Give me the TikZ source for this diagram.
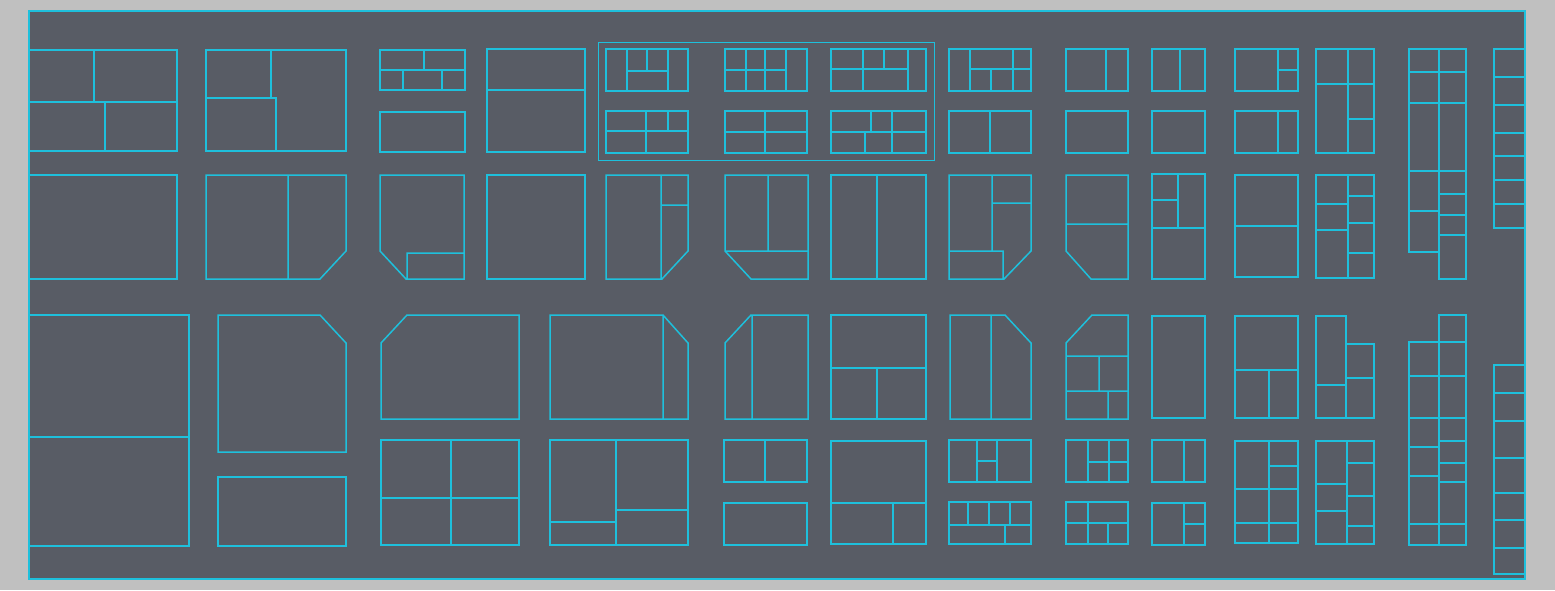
\documentclass[tikz,border=0pt]{standalone}
\definecolor{pagegray}{HTML}{C0C0C0}
\definecolor{boardgray}{HTML}{585C65}
\definecolor{plancyan}{HTML}{1EC0DC}
\begin{document}
\begin{tikzpicture}[x=0.5pt,y=-0.5pt,
    wall/.style={draw=plancyan, line width=0.75pt},
    thinwall/.style={draw=plancyan, line width=0.5pt}]
  \fill[pagegray] (0,0) rectangle (1555,590);
  \filldraw[fill=boardgray, wall] (29,11) rectangle (1525,579);

  % column 1
  \draw[wall] (29,50) rectangle (177,151) (29,102) -- (177,102)
    (94,50) -- (94,102) (105,102) -- (105,151);
  \draw[wall] (29,175) rectangle (177,279);
  \draw[wall] (29,315) rectangle (189,546) (29,437) -- (189,437);

  % column 2
  \draw[wall] (206,50) rectangle (346,151) (271,50) -- (271,98)
    (206,98) -- (276,98) -- (276,151);
  \draw[wall] (206,175) -- (346,175) -- (346,251) -- (320,279) -- (206,279) -- cycle
    (288,175) -- (288,279);
  \draw[wall] (218,315) -- (320,315) -- (346,343) -- (346,452) -- (218,452) -- cycle;
  \draw[wall] (218,477) rectangle (346,546);

  % column 3
  \draw[wall] (380,50) rectangle (465,90) (380,70) -- (465,70)
    (424,50) -- (424,70) (403,70) -- (403,90) (442,70) -- (442,90);
  \draw[wall] (380,112) rectangle (465,152);
  \draw[wall] (380,175) -- (464,175) -- (464,279) -- (406,279) -- (380,251) -- cycle
    (407,279) -- (407,253) -- (464,253);
  \draw[wall] (381,343) -- (407,315) -- (519,315) -- (519,419) -- (381,419) -- cycle;
  \draw[wall] (381,440) rectangle (519,545) (451,440) -- (451,545) (381,498) -- (519,498);

  % column 4
  \draw[wall] (487,49) rectangle (585,152) (487,90) -- (585,90);
  \draw[wall] (487,175) rectangle (585,279);
  \draw[wall] (550,315) -- (663,315) -- (688,343) -- (688,419) -- (550,419) -- cycle
    (663,315) -- (663,419);
  \draw[wall] (550,440) rectangle (688,545) (616,440) -- (616,545)
    (550,522) -- (616,522) (616,510) -- (688,510);

  % grouped variants
  \draw[thinwall] (598,42) rectangle (934,160);
  \draw[wall] (606,49) rectangle (688,91) (627,49) -- (627,91) (668,49) -- (668,91)
    (627,71) -- (668,71) (647,49) -- (647,71);
  \draw[wall] (606,111) rectangle (688,153) (606,131) -- (688,131)
    (646,111) -- (646,153) (668,111) -- (668,131);
  \draw[wall] (725,49) rectangle (807,91) (746,49) -- (746,91) (765,49) -- (765,91)
    (786,49) -- (786,91) (725,70) -- (786,70);
  \draw[wall] (725,111) rectangle (807,153) (725,132) -- (807,132) (765,111) -- (765,153);
  \draw[wall] (831,49) rectangle (926,91) (863,49) -- (863,91) (908,49) -- (908,91)
    (831,69) -- (908,69) (884,49) -- (884,69);
  \draw[wall] (831,111) rectangle (926,153) (831,132) -- (926,132)
    (871,111) -- (871,132) (865,132) -- (865,153) (892,111) -- (892,153);

  % row 2 and 3, middle
  \draw[wall] (606,175) -- (688,175) -- (688,251) -- (662,279) -- (606,279) -- cycle
    (661,175) -- (661,279) (661,205) -- (688,205);
  \draw[wall] (725,175) -- (808,175) -- (808,279) -- (751,279) -- (725,251) -- cycle
    (725,251) -- (808,251) (768,175) -- (768,251);
  \draw[wall] (831,175) rectangle (926,279) (877,175) -- (877,279);
  \draw[wall] (725,343) -- (751,315) -- (808,315) -- (808,419) -- (725,419) -- cycle
    (752,315) -- (752,419);
  \draw[wall] (724,440) rectangle (807,482) (765,440) -- (765,482);
  \draw[wall] (724,503) rectangle (807,545);
  \draw[wall] (831,315) rectangle (926,419) (831,368) -- (926,368) (877,368) -- (877,419);
  \draw[wall] (831,441) rectangle (926,544) (831,503) -- (926,503) (893,503) -- (893,544);

  % column H
  \draw[wall] (949,49) rectangle (1031,91) (970,49) -- (970,91) (970,69) -- (1031,69)
    (991,69) -- (991,91) (1013,49) -- (1013,91);
  \draw[wall] (949,111) rectangle (1031,153) (990,111) -- (990,153);
  \draw[wall] (949,175) -- (1031,175) -- (1031,251) -- (1004,279) -- (949,279) -- cycle
    (992,175) -- (992,251) (992,203) -- (1031,203) (949,251) -- (1003,251) -- (1003,279);
  \draw[wall] (950,315) -- (1005,315) -- (1031,343) -- (1031,419) -- (950,419) -- cycle
    (991,315) -- (991,419);
  \draw[wall] (949,440) rectangle (1031,482) (977,440) -- (977,482) (997,440) -- (997,482)
    (977,461) -- (997,461);
  \draw[wall] (949,502) rectangle (1031,544) (949,525) -- (1031,525)
    (968,502) -- (968,525) (989,502) -- (989,525) (1010,502) -- (1010,525)
    (1005,525) -- (1005,544);

  % column I
  \draw[wall] (1066,49) rectangle (1128,91) (1106,49) -- (1106,91);
  \draw[wall] (1066,111) rectangle (1128,153);
  \draw[wall] (1066,175) -- (1128,175) -- (1128,279) -- (1091,279) -- (1066,251) -- cycle
    (1066,224) -- (1128,224);
  \draw[wall] (1066,343) -- (1092,315) -- (1128,315) -- (1128,419) -- (1066,419) -- cycle
    (1066,356) -- (1128,356) (1099,356) -- (1099,391) (1066,391) -- (1128,391)
    (1108,391) -- (1108,419);
  \draw[wall] (1066,440) rectangle (1128,482) (1088,440) -- (1088,482)
    (1109,440) -- (1109,482) (1088,462) -- (1128,462);
  \draw[wall] (1066,502) rectangle (1128,544) (1066,523) -- (1128,523)
    (1088,502) -- (1088,544) (1108,523) -- (1108,544);

  % column J
  \draw[wall] (1152,49) rectangle (1205,91) (1180,49) -- (1180,91);
  \draw[wall] (1152,111) rectangle (1205,153);
  \draw[wall] (1152,174) rectangle (1205,279) (1152,228) -- (1205,228)
    (1178,174) -- (1178,228) (1152,200) -- (1178,200);
  \draw[wall] (1152,316) rectangle (1205,418);
  \draw[wall] (1152,440) rectangle (1205,482) (1184,440) -- (1184,482);
  \draw[wall] (1152,503) rectangle (1205,545) (1184,503) -- (1184,545) (1184,524) -- (1205,524);

  % column K
  \draw[wall] (1235,49) rectangle (1298,91) (1278,49) -- (1278,91) (1278,70) -- (1298,70);
  \draw[wall] (1235,111) rectangle (1298,153) (1278,111) -- (1278,153);
  \draw[wall] (1235,175) rectangle (1298,277) (1235,226) -- (1298,226);
  \draw[wall] (1235,316) rectangle (1298,418) (1235,370) -- (1298,370) (1269,370) -- (1269,418);
  \draw[wall] (1235,441) rectangle (1298,543) (1269,441) -- (1269,543)
    (1269,466) -- (1298,466) (1235,489) -- (1298,489) (1235,523) -- (1298,523);

  % column L
  \draw[wall] (1316,49) rectangle (1374,153) (1348,49) -- (1348,153)
    (1316,84) -- (1374,84) (1348,119) -- (1374,119);
  \draw[wall] (1316,175) rectangle (1374,278) (1348,175) -- (1348,278)
    (1316,204) -- (1348,204) (1316,230) -- (1348,230)
    (1348,196) -- (1374,196) (1348,223) -- (1374,223) (1348,253) -- (1374,253);
  \draw[wall] (1316,316) -- (1346,316) -- (1346,344) -- (1374,344) -- (1374,418) -- (1316,418) -- cycle
    (1346,344) -- (1346,418) (1316,385) -- (1346,385) (1346,378) -- (1374,378);
  \draw[wall] (1316,441) rectangle (1374,544) (1347,441) -- (1347,544)
    (1316,484) -- (1347,484) (1316,511) -- (1347,511)
    (1347,463) -- (1374,463) (1347,496) -- (1374,496) (1347,526) -- (1374,526);

  % column M
  \draw[wall] (1409,49) -- (1466,49) -- (1466,279) -- (1439,279) -- (1439,252) -- (1409,252) -- cycle
    (1439,49) -- (1439,279) (1409,72) -- (1466,72) (1409,103) -- (1466,103)
    (1409,171) -- (1466,171) (1409,211) -- (1439,211)
    (1439,194) -- (1466,194) (1439,215) -- (1466,215) (1439,235) -- (1466,235);
  \draw[wall] (1409,342) -- (1439,342) -- (1439,315) -- (1466,315) -- (1466,545) -- (1409,545) -- cycle
    (1439,315) -- (1439,545) (1439,342) -- (1466,342)
    (1409,376) -- (1466,376) (1409,418) -- (1466,418) (1409,524) -- (1466,524)
    (1409,447) -- (1439,447) (1409,476) -- (1439,476)
    (1439,441) -- (1466,441) (1439,463) -- (1466,463) (1439,482) -- (1466,482);

  % column N, against the edge
  \draw[wall] (1494,49) rectangle (1525,228);
  \foreach \y in {77,105,133,156,180,204}
    \draw[wall] (1494,\y) -- (1525,\y);
  \draw[wall] (1494,365) rectangle (1525,574);
  \foreach \y in {393,421,458,493,520,548}
    \draw[wall] (1494,\y) -- (1525,\y);
\end{tikzpicture}
\end{document}
